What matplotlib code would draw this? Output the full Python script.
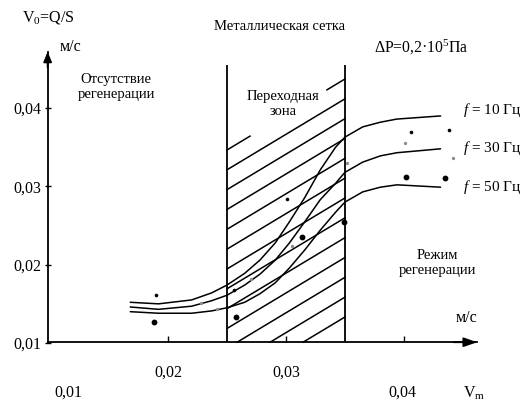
import matplotlib
matplotlib.use('Agg')
import matplotlib.pyplot as plt

plt.rcParams['font.family'] = ['Liberation Serif', 'DejaVu Serif']
plt.rcParams['mathtext.fontset'] = 'custom'
plt.rcParams['mathtext.rm'] = 'Liberation Serif'
plt.rcParams['mathtext.it'] = 'Liberation Serif:italic'

# ---------------- data ----------------
curve_x = [0.0168, 0.0192, 0.0220, 0.0237, 0.0250, 0.0265, 0.0278, 0.0291, 0.0303,
           0.0316, 0.0329, 0.0342, 0.0350, 0.0365, 0.0380, 0.0394, 0.0431]
f10_y = [0.0152, 0.0150, 0.0155, 0.0164, 0.0174, 0.0189, 0.0206, 0.0228, 0.0255,
         0.0286, 0.0321, 0.0350, 0.0363, 0.0376, 0.0382, 0.0386, 0.0390]
f30_y = [0.0146, 0.0143, 0.0147, 0.0154, 0.0161, 0.0174, 0.0188, 0.0206, 0.0228,
         0.0255, 0.0283, 0.0304, 0.0318, 0.0331, 0.0339, 0.0343, 0.0348]
f50_y = [0.0140, 0.0138, 0.0138, 0.0141, 0.0145, 0.0152, 0.0163, 0.0177, 0.0196,
         0.0219, 0.0244, 0.0267, 0.0280, 0.0293, 0.0299, 0.0302, 0.0299]

pts10_x = [0.01898, 0.02557, 0.03011, 0.04059, 0.04381]
pts10_y = [0.01613, 0.01677, 0.02835, 0.03699, 0.03720]
pts30_x = [0.02280, 0.02415, 0.02703, 0.03048, 0.03514, 0.04008, 0.04413]
pts30_y = [0.01515, 0.01438, 0.01817, 0.02239, 0.03303, 0.03550, 0.03359]
pts50_x = [0.01884, 0.02574, 0.03138, 0.03494, 0.04017, 0.04345]
pts50_y = [0.01272, 0.01336, 0.02358, 0.02541, 0.03124, 0.03103]

curve_labels = ['$f$ = 10 Гц', '$f$ = 30 Гц', '$f$ = 50 Гц']
yticks = [0.01, 0.02, 0.03, 0.04]
ytick_labels = ['0,01', '0,02', '0,03', '0,04']
xticks = [0.02, 0.03, 0.04]
xtick_labels = ['0,02', '0,03', '']
zone = [0.025, 0.035]

# ---------------- layout ----------------
X0, X1 = 0.0057627, 0.0505085
Y0, Y1 = 0.0025926, 0.0538059
AX_X, AX_Y = 0.0098, 0.0101
Y_TOP, X_END = 0.0472, 0.0462
ZONE_TOP = 0.0455
FS = 10.5
FT = 11.5

fig = plt.figure(figsize=(5.28, 4.01), dpi=100)
ax = fig.add_axes([0, 0, 1, 1])
ax.set_xlim(X0, X1)
ax.set_ylim(Y0, Y1)

for s in ['top', 'right']:
    ax.spines[s].set_visible(False)
ax.spines['left'].set_position(('data', AX_X))
ax.spines['left'].set_bounds(AX_Y, Y_TOP)
ax.spines['bottom'].set_position(('data', AX_Y))
ax.spines['bottom'].set_bounds(AX_X, X_END)
for s in ['left', 'bottom']:
    ax.spines[s].set_linewidth(1.3)

ax.set_yticks(yticks)
ax.set_yticklabels(ytick_labels, fontsize=FT)
ax.set_xticks(xticks)
ax.set_xticklabels(xtick_labels, fontsize=FT)
ax.tick_params(axis='y', direction='inout', length=4.5, width=1.0, pad=2.5)
ax.tick_params(axis='x', direction='in', length=4, width=1.0, pad=16)

# arrow heads
ax.annotate('', xy=(AX_X, Y_TOP), xytext=(AX_X, Y_TOP - 0.002),
            arrowprops=dict(arrowstyle='-|>,head_length=0.6,head_width=0.25',
                            color='k', lw=1.3, shrinkA=0, shrinkB=0))
ax.annotate('', xy=(X_END, AX_Y), xytext=(X_END - 0.002, AX_Y),
            arrowprops=dict(arrowstyle='-|>,head_length=0.8,head_width=0.28',
                            color='k', lw=1.3, shrinkA=0, shrinkB=0))

# transition zone
ax.vlines(zone, AX_Y, ZONE_TOP, color='k', lw=1.3)
slope = 0.9068
spacing = 0.002533
top_right = 0.04372
gap = (0.02695, 0.03347)
for k in range(13):
    yr = top_right - k * spacing
    xs = max(zone[0], zone[1] - (yr - AX_Y) / slope)
    xe = zone[1]
    f = lambda x: yr - slope * (zone[1] - x)
    if k == 0:
        ax.plot([xs, gap[0]], [f(xs), f(gap[0])], color='k', lw=1.1)
        ax.plot([gap[1], xe], [f(gap[1]), f(xe)], color='k', lw=1.1)
    else:
        ax.plot([xs, xe], [f(xs), f(xe)], color='k', lw=1.1)

# curves
for yv in (f10_y, f30_y, f50_y):
    ax.plot(curve_x, yv, color='k', lw=1.1, solid_capstyle='round')

# experimental points
ax.plot(pts10_x, pts10_y, 'o', ms=2.6, color='k', mec='none')
ax.plot(pts30_x, pts30_y, 'o', ms=2.4, color='#8c8c8c', mec='none')
ax.plot(pts50_x, pts50_y, 'o', ms=4.2, color='k', mec='none')

# texts (figure pixel layout)
W, H = 528.0, 401.0
def T(x, y, s, ha='left', va='center', **kw):
    ax.text(x / W, 1 - y / H, s, transform=ax.transAxes, ha=ha, va=va, **kw)

T(22, 17, r'V$_{\mathregular{0}}$=Q/S', fontsize=11.5)
T(214, 27, 'Металлическая сетка', fontsize=FS)
T(60, 47, 'м/с', fontsize=11.5)
T(374, 47, r'ΔP=0,2·10$^{\mathregular{5}}$Па', fontsize=11.3)
T(116, 87, 'Отсутствие\nрегенерации', ha='center', fontsize=FS, linespacing=1.15)
T(283, 104, 'Переходная\nзона', ha='center', fontsize=FS, linespacing=1.15)
for lbl, yy in zip(curve_labels, [110, 148, 187]):
    T(463, yy, lbl, fontsize=FS + 0.5)
T(437, 263, 'Режим\nрегенерации', ha='center', fontsize=FS, linespacing=1.15)
T(467, 318, 'м/с', ha='center', fontsize=11.5)
T(68, 393, '0,01', ha='center', fontsize=FT)
T(402, 393, '0,04', ha='center', fontsize=FT)
T(474, 393, r'V$_{\mathregular{m}}$', ha='center', fontsize=11.5)

fig.savefig('out.png', dpi=100, facecolor='white')
